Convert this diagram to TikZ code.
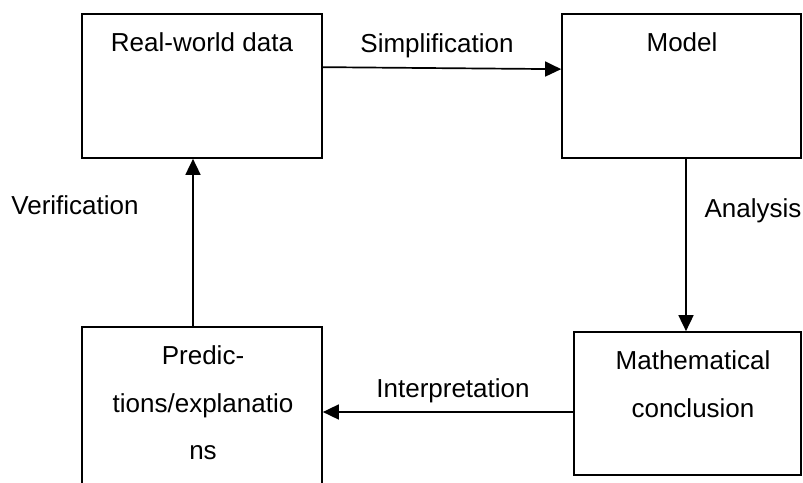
\documentclass[tikz,border=0pt]{standalone}
\usepackage{fontspec}
\setmainfont{Liberation Sans}
\usetikzlibrary{arrows.meta}
\begin{document}
\begin{tikzpicture}[x=1pt,y=-1pt,
  box/.style={draw,line width=1.7pt,rectangle,inner sep=0pt},
  lbl/.style={anchor=base,inner sep=0pt,font=\fontsize{26}{30}\selectfont},
  flow/.style={line width=1.7pt,-{Triangle[length=16pt,width=15pt]}}]
\useasboundingbox (0,0) rectangle (803,482);
\begin{scope}
\clip (0,0) rectangle (803,482);
% boxes
\node[box,minimum width=240pt,minimum height=144pt] (rw) at (202,86) {};
\node[box,minimum width=239pt,minimum height=144pt] (model) at (681.5,86) {};
\node[box,minimum width=227pt,minimum height=143pt] (mc) at (687.5,403.5) {};
\node[box,minimum width=240pt,minimum height=180pt] (pred) at (202,417) {};
\end{scope}
% box texts
\node[lbl] (trw) at (202,51) {Real-world data};
\node[lbl] (tmodel) at (682,51) {Model};
\node[lbl] (tmc1) at (693,369) {Mathematical};
\node[lbl] (tmc2) at (693,417) {conclusion};
\node[lbl] (tp1) at (203,364) {Predic-};
\node[lbl] (tp2) at (203,412) {tions/explanatio};
\node[lbl] (tp3) at (203,459) {ns};
% connectors
\draw[flow] ([yshift=-54pt]rw.north east) -- ([yshift=-56pt]model.north west);
\coordinate (an) at ([xshift=4.5pt]model.south);
\draw[flow] (an) -- (an |- mc.north);
\coordinate (ip) at ([yshift=-8.5pt]mc.west);
\draw[flow] (ip) -- (ip -| pred.east);
\coordinate (vf) at ([xshift=-9pt]pred.north);
\draw[flow] (vf) -- (vf |- rw.south);
% connector labels
\node[lbl] (lsimp) at (437,52) {Simplification};
\node[lbl] (lana) at (753,217) {Analysis};
\node[lbl] (lint) at (453,397) {Interpretation};
\node[lbl] (lver) at (75,214) {Verification};
\end{tikzpicture}
\end{document}
